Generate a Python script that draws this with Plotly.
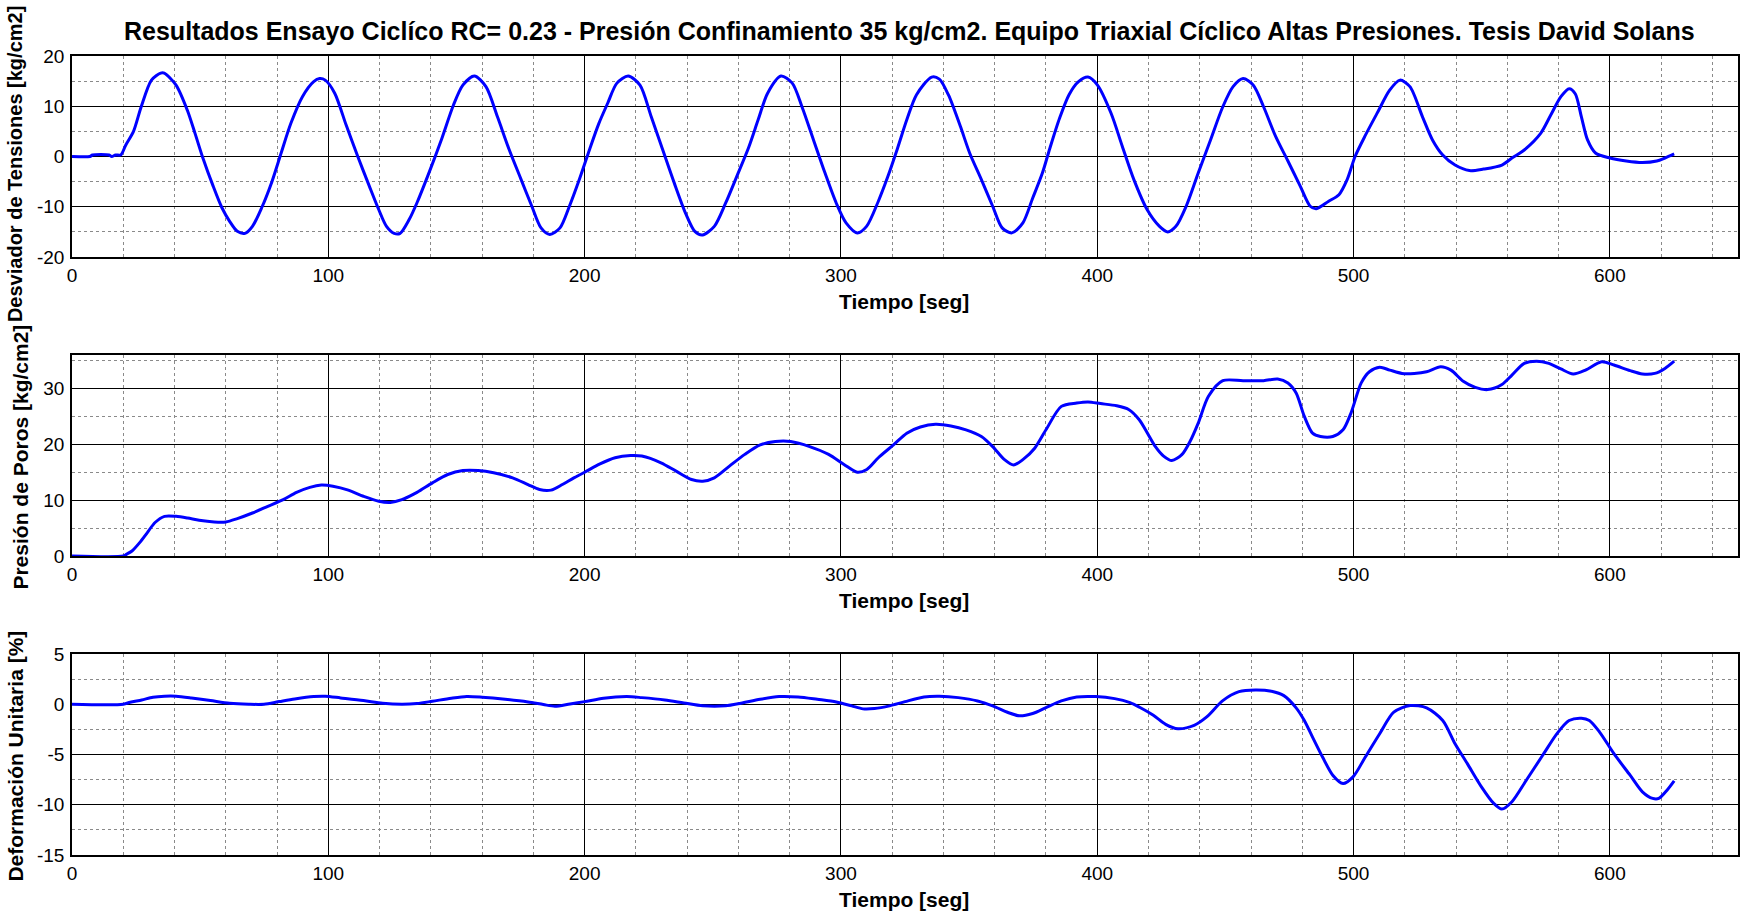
import plotly.graph_objects as go

# ---- measured series: (tiempo [seg], valor) ----
desviador = [
    (0, 0), (7, 0), (8, 0.3), (14.5, 0.3), (15.5, 0), (17, 0.3), (19, 0.3), (21, 2.3), (24, 5),
    (27, 9.9), (31, 15.2), (34.6, 16.6), (36, 16.6), (40.6, 14.2), (45, 9.2), (48, 4.6), (51, -0.2),
    (55, -5.8), (58.5, -10.2), (61.5, -12.9), (64.5, -14.9), (67.5, -15.3), (70.4, -13.9), (74, -10.2),
    (78, -5), (81.6, 0.7), (85.4, 6.6), (89.9, 11.9), (94.3, 14.9), (96.6, 15.5), (98.8, 15.2),
    (102.5, 12.6), (107, 6.2), (111.5, 0), (116, -5.9), (119.7, -10.6), (122.7, -13.9), (125.7, -15.3),
    (128, -15.3), (131.6, -12.5), (134.6, -9.2), (139, -3.6), (144.3, 3.6), (148.8, 10.2), (152.5, 14.2),
    (157, 16), (161.5, 13.9), (166, 7.9), (170.4, 1.6), (175, -4.3), (179.4, -9.9), (183, -14.2),
    (186.4, -15.5), (190.4, -14.2), (194, -10), (198, -4.5), (202, 1.5), (205.5, 6.5), (209, 10.6),
    (212.6, 14.6), (217, 16), (221.6, 14.2), (226, 7.9), (230.5, 1.3), (235, -5.3), (239.4, -11.3),
    (243, -14.9), (246, -15.6), (250.6, -13.9), (255, -9.3), (259.5, -3.8), (264, 1.8), (267.7, 7.3),
    (271.4, 12.6), (276.6, 16), (281, 14.6), (284.8, 9.9), (289.3, 3.3), (293.8, -3.3), (298.2, -9.3),
    (302, -13.2), (306.4, -15.2), (310, -13.9), (314.6, -8.9), (318.3, -4), (322, 1.5), (325.7, 7.3),
    (329.5, 12.3), (335.4, 15.8), (338.4, 15.4), (342, 12.2), (346.6, 6), (350.3, 0.6), (354.8, -4.6),
    (359.2, -9.9), (362.9, -14.2), (366.7, -15.2), (371, -13.2), (374.8, -8.3), (378.6, -3.3),
    (381.5, 1.6), (385.3, 7.6), (389, 12.3), (392.7, 14.9), (396.4, 15.8), (400.1, 14.2), (405.4, 8.6),
    (409.8, 2), (414.3, -4.6), (419.5, -10.6), (424.3, -13.9), (427.5, -15), (430.7, -13.9),
    (434.7, -9.9), (439.4, -3.3), (444.2, 3.3), (449, 9.9), (453, 13.9), (456.9, 15.5), (460.9, 14.2),
    (464.9, 9.9), (469.6, 4), (474.4, -0.9), (479.2, -5.9), (483.1, -9.9), (485.5, -10.4), (490.3, -8.9),
    (494.3, -7.6), (497.5, -4.6), (500.6, 0), (504.6, 4.2), (509.4, 8.8), (514.1, 13.2), (518.1, 15.2),
    (522, 13.9), (526.9, 7.9), (530.8, 3.3), (534.8, 0.3), (539.6, -1.7), (545.2, -2.8), (550.7, -2.5),
    (557.9, -1.7), (561.8, -0.3), (566.6, 1.3), (573, 4.6), (577, 8.3), (580.9, 11.9), (584.1, 13.5),
    (586.5, 12.5), (588.9, 7.9), (591.3, 3.3), (594.4, 0.7), (600, -0.3), (606.4, -0.9), (612.7, -1.2),
    (618.3, -0.9), (621.5, -0.3), (625.1, 0.5),
]

presion_poros = [
    (0, 0), (20, 0), (21.2, 0.3), (23.4, 0.9), (26.4, 2.4), (29.4, 4.2), (32.4, 6), (36.1, 7.1),
    (40.6, 7.1), (45.1, 6.8), (49.6, 6.4), (55.5, 6.1), (60, 6.1), (64.5, 6.7), (70.4, 7.7), (76.4, 8.9),
    (82.4, 10.1), (87.6, 11.4), (92.8, 12.3), (97.3, 12.7), (101.8, 12.5), (107.8, 11.8), (113.7, 10.7),
    (119.7, 9.8), (124.2, 9.6), (128.7, 10.1), (134.6, 11.4), (140.6, 13.1), (146.6, 14.6), (152.5, 15.3),
    (158.5, 15.3), (164.5, 14.9), (171.9, 14), (177.9, 12.8), (182.4, 11.9), (186.9, 11.8), (191.3, 12.8),
    (195.8, 14), (200, 15), (206, 16.5), (211.9, 17.6), (217.9, 18), (222.3, 17.9), (229.8, 16.7),
    (235.7, 15.2), (241.7, 13.7), (246.1, 13.4), (250.6, 14), (256.5, 16.1), (262.5, 18.2), (268.5, 19.9),
    (274.4, 20.5), (280.4, 20.5), (287.8, 19.6), (295.2, 18.2), (301.2, 16.4), (306.4, 15), (310.1, 15.5),
    (314.6, 17.6), (320.5, 19.9), (325.7, 22), (331, 23.1), (336.9, 23.6), (342.9, 23.3), (348.8, 22.6),
    (354.8, 21.4), (359.2, 19.6), (363.7, 17.3), (367.4, 16.3), (371.1, 17.3), (375.6, 19.3), (380, 22.6),
    (386, 26.8), (392, 27.4), (396.4, 27.6), (401.3, 27.3), (407.6, 26.9), (412.4, 26.2), (416.4, 24.4),
    (419.6, 22), (422.7, 19.6), (425.9, 17.9), (429.1, 17.1), (433.1, 18.2), (436.2, 20.5), (439.4, 23.8),
    (443.4, 28.6), (449, 31.4), (456.9, 31.4), (464.9, 31.4), (470.4, 31.7), (474.4, 31), (477.6, 29.2),
    (480.8, 25), (484, 22), (487.1, 21.4), (491.9, 21.4), (495.9, 22.6), (499, 25.6), (503, 31),
    (506.2, 33), (510.2, 33.8), (514.1, 33.3), (518.9, 32.7), (523.7, 32.7), (528.5, 33), (534, 33.9),
    (538, 33.3), (542.8, 31.3), (547.5, 30.2), (552.3, 29.8), (557.9, 30.7), (561.8, 32.4), (566.6, 34.5),
    (571.4, 34.9), (576.2, 34.5), (580.9, 33.5), (585.7, 32.6), (590.5, 33.3), (596.8, 34.8),
    (601.6, 34.2), (607.9, 33.2), (612.7, 32.6), (617.5, 32.7), (621.5, 33.6), (625.1, 34.9),
]

deformacion = [
    (0, 0), (20, 0), (22.7, 0.2), (27.2, 0.43), (31.6, 0.7), (36.1, 0.8), (40.6, 0.8), (46.6, 0.63),
    (54, 0.37), (61.5, 0.1), (69, 0), (74.9, 0), (80.9, 0.27), (86.9, 0.53), (94.3, 0.77), (98.8, 0.8),
    (104.8, 0.63), (113.7, 0.37), (121.2, 0.1), (128.7, 0), (134.6, 0.07), (140.6, 0.3), (148, 0.6),
    (154, 0.77), (160, 0.7), (169, 0.5), (177.9, 0.23), (183.9, -0.03), (188.4, -0.2), (194.3, 0.03),
    (200, 0.26), (207.4, 0.6), (216.4, 0.76), (222.3, 0.66), (231.3, 0.43), (238.7, 0.13), (246.1, -0.16),
    (255, -0.16), (261, 0.1), (268.5, 0.49), (275.9, 0.76), (283.3, 0.72), (290.8, 0.49), (298.2, 0.23),
    (304.2, -0.16), (308.6, -0.46), (313.1, -0.43), (319, -0.16), (325, 0.26), (332.4, 0.72),
    (338.4, 0.79), (345.8, 0.66), (353.3, 0.33), (359.2, -0.16), (365.2, -0.82), (369.6, -1.15),
    (374.8, -0.92), (380, -0.33), (386, 0.33), (392, 0.72), (399.4, 0.76), (406.8, 0.56), (412.8, 0.16),
    (416.5, -0.3), (421.9, -1.1), (426.7, -2), (431.5, -2.44), (437.8, -2.1), (442.6, -1.29), (449, 0.36),
    (455.3, 1.25), (461.7, 1.42), (468, 1.29), (472.8, 0.86), (477.6, -0.36), (480.8, -1.62),
    (484, -3.27), (487.9, -5.25), (491.9, -7.06), (495.9, -7.89), (499.8, -7.23), (504.6, -5.25),
    (510.2, -2.94), (515.7, -0.79), (522.1, -0.13), (528.5, -0.36), (534.8, -1.62), (539.6, -3.93),
    (544.4, -5.91), (549.9, -8.22), (554.7, -9.87), (557.9, -10.43), (561.8, -9.7), (567.4, -7.56),
    (573.8, -5.08), (579.3, -2.94), (584.1, -1.62), (588.9, -1.39), (592, -1.62), (596, -2.77),
    (601.6, -4.92), (607.9, -7.06), (612.7, -8.71), (616.7, -9.37), (619.1, -9.37), (622.3, -8.55),
    (625.1, -7.62),
]

# ---- axis ticks and labels ----
x_ticks = [0, 100, 200, 300, 400, 500, 600]
dev_ticks = [-20, -10, 0, 10, 20]
poros_ticks = [0, 10, 20, 30]
def_ticks = [-15, -10, -5, 0, 5]

titulo = ("Resultados Ensayo Ciclíco RC= 0.23 - Presión Confinamiento 35 kg/cm2. "
          "Equipo Triaxial Cíclico Altas Presiones. Tesis David Solans")
x_label = "Tiempo [seg]"
y_labels = ["Desviador de Tensiones [kg/cm2]", "Presión de Poros [kg/cm2]", "Deformación Unitaria [%]"]

# ---- page geometry (pixels) ----
W, H = 1741, 914
ML, MR, MT, MB = 72, 1, 56, 59
PH = H - MT - MB
panels_px = [(56, 257), (355, 556), (654, 855)]   # top / bottom edge of each plot box
ylab_x = [15, 20, 15]                               # centre column of each y label
ylab_y = [164, 457.5, 756.5]                        # centre row of each y label
ylab_size = [20, 21, 21]


def py(px):
    """pixel row -> paper y"""
    return (H - MB - px) / PH


def pxx(px):
    """pixel column -> paper x"""
    return (px - ML) / (W - ML - MR)


FONT = "Liberation Sans, Arial, Helvetica, sans-serif"
BLUE = "#0000ff"

fig = go.Figure()
series = [desviador, presion_poros, deformacion]
for i, s in enumerate(series):
    t = [p[0] for p in s]
    v = [p[1] for p in s]
    sfx = "" if i == 0 else str(i + 1)
    fig.add_trace(go.Scatter(x=t, y=v, mode="lines", xaxis="x" + sfx, yaxis="y" + sfx,
                             line=dict(color=BLUE, width=3, shape="spline", smoothing=0.8),
                             showlegend=False, hoverinfo="skip"))


def xaxis_cfg(anchor):
    return dict(
        anchor=anchor, domain=[0, 1], range=[0, 650],
        tickmode="array", tickvals=x_ticks, ticktext=[str(v) for v in x_ticks],
        showgrid=True, gridcolor="#000000", gridwidth=1.2,
        minor=dict(tickmode="linear", tick0=0, dtick=20, showgrid=True,
                   gridcolor="#8a8a8a", griddash="dot", gridwidth=1),
        showline=True, mirror=True, linecolor="#000000", linewidth=1.6,
        zeroline=False, ticks="", ticklen=0, ticklabelstandoff=0,
        tickfont=dict(family=FONT, size=19, color="#000000"),
    )


def yaxis_cfg(anchor, rng, ticks, minor_step, dom):
    return dict(
        anchor=anchor, domain=dom, range=rng,
        tickmode="array", tickvals=ticks, ticktext=[str(v) for v in ticks],
        showgrid=True, gridcolor="#000000", gridwidth=1.2,
        minor=dict(tickmode="linear", tick0=0, dtick=minor_step, showgrid=True,
                   gridcolor="#8a8a8a", griddash="dot", gridwidth=1),
        showline=True, mirror=True, linecolor="#000000", linewidth=1.6,
        zeroline=False, ticks="", ticklabelstandoff=2,
        tickfont=dict(family=FONT, size=19, color="#000000"),
    )


doms = [[py(b), py(t)] for (t, b) in panels_px]

fig.update_layout(
    width=W, height=H,
    margin=dict(l=ML, r=MR, t=MT, b=MB),
    paper_bgcolor="#ffffff", plot_bgcolor="#ffffff",
    xaxis=xaxis_cfg("y"), xaxis2=xaxis_cfg("y2"), xaxis3=xaxis_cfg("y3"),
    yaxis=yaxis_cfg("x", [-20, 20], dev_ticks, 5, doms[0]),
    yaxis2=yaxis_cfg("x2", [0, 36], poros_ticks, 5, doms[1]),
    yaxis3=yaxis_cfg("x3", [-15, 5], def_ticks, 2.5, doms[2]),
)

bold = dict(family=FONT, size=21, color="#000000", weight="bold")
ann = [dict(text=titulo, xref="paper", yref="paper", x=pxx(911), y=py(31),
            xanchor="center", yanchor="middle", showarrow=False,
            font=dict(family=FONT, size=25, color="#000000", weight="bold"))]
for i, (t, b) in enumerate(panels_px):
    ann.append(dict(text=x_label, xref="paper", yref="paper", x=pxx(905), y=py(b + 44),
                    xanchor="center", yanchor="middle", showarrow=False, font=bold))
    ann.append(dict(text=y_labels[i], xref="paper", yref="paper", x=pxx(ylab_x[i]),
                    y=py(ylab_y[i]), xanchor="center", yanchor="middle",
                    textangle=-90, showarrow=False,
                    font=dict(bold, size=ylab_size[i])))
fig.update_layout(annotations=ann)

fig.write_html("out.html")
